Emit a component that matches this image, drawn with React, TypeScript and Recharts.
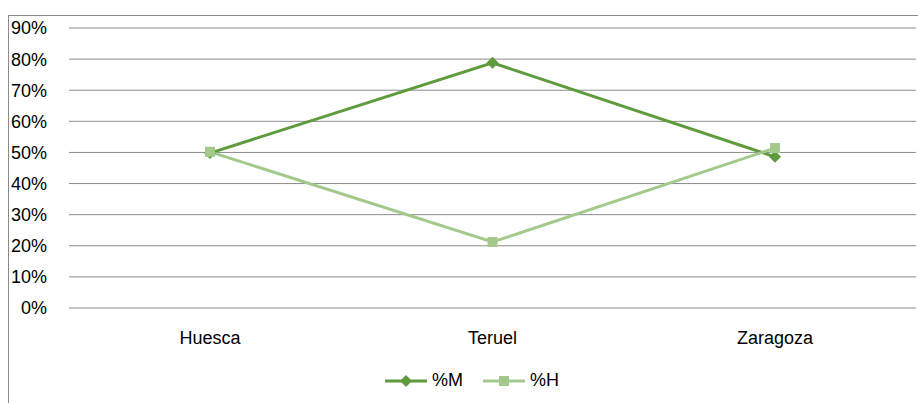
import * as React from "react";
import { CartesianGrid, Legend, Line, LineChart, XAxis, YAxis } from "recharts";

const provinces = ["Huesca", "Teruel", "Zaragoza"];
const pctM = [0.498, 0.788, 0.486];
const pctH = [0.502, 0.212, 0.514];
const yTicks = [0, 0.1, 0.2, 0.3, 0.4, 0.5, 0.6, 0.7, 0.8, 0.9];

const DARK = "#5f9a3c";
const LIGHT = "#a3c98c";
const FONT = "'Liberation Sans', Arial, sans-serif";

const rows = provinces.map((name, i) => ({ name, M: pctM[i], H: pctH[i] }));

const pct = (v: number) => `${Math.round(v * 100)}%`;

function Diamond(props: any) {
  const { cx, cy, fill } = props;
  if (cx == null || cy == null) return null;
  const r = 6;
  return (
    <path
      d={`M${cx},${cy - r}L${cx + r},${cy}L${cx},${cy + r}L${cx - r},${cy}Z`}
      fill={fill}
    />
  );
}

function Square(props: any) {
  const { cx, cy, fill } = props;
  if (cx == null || cy == null) return null;
  return <rect x={cx - 5} y={cy - 5} width={10} height={10} fill={fill} />;
}

function LegendContent() {
  const item = (label: string, color: string, marker: "d" | "s") => (
    <div style={{ display: "flex", alignItems: "center", marginRight: 20 }}>
      <svg width={42} height={14}>
        <line x1={0} y1={7} x2={42} y2={7} stroke={color} strokeWidth={3} />
        {marker === "d" ? (
          <path d="M21,1L27,7L21,13L15,7Z" fill={color} />
        ) : (
          <rect x={16} y={2} width={10} height={10} fill={color} />
        )}
      </svg>
      <span style={{ marginLeft: 5, fontSize: 18, color: "#000" }}>{label}</span>
    </div>
  );
  return (
    <div
      style={{
        display: "flex",
        justifyContent: "center",
        fontFamily: FONT,
        paddingLeft: 40,
      }}
    >
      {item("%M", DARK, "d")}
      {item("%H", LIGHT, "s")}
    </div>
  );
}

export default function App() {
  return (
    <div
      style={{
        position: "absolute",
        left: 0,
        top: 0,
        width: 918,
        height: 403,
        background: "#fff",
        overflow: "hidden",
        fontFamily: FONT,
      }}
    >
      <div
        style={{
          position: "absolute",
          left: 8,
          top: 15,
          width: 920,
          height: 400,
          borderTop: "1px solid #8a8a8a",
          borderLeft: "1px solid #8a8a8a",
        }}
      />
      <LineChart
        width={918}
        height={403}
        data={rows}
        margin={{ top: 28, right: 2, left: 8, bottom: 0 }}
      >
        <CartesianGrid horizontal vertical={false} stroke="#8c8c8c" strokeWidth={1} />
        <XAxis
          dataKey="name"
          axisLine={false}
          tickLine={false}
          tickSize={0}
          tickMargin={23}
          height={62}
          padding={{ left: 141, right: 141 }}
          tick={{ fontSize: 18, fill: "#000", fontFamily: FONT }}
        />
        <YAxis
          domain={[0, 0.9]}
          ticks={yTicks}
          tickFormatter={pct}
          axisLine={false}
          tickLine={false}
          tickSize={0}
          tickMargin={22}
          width={61}
          tick={{ fontSize: 18, fill: "#000", fontFamily: FONT }}
        />
        <Legend
          verticalAlign="bottom"
          height={33}
          content={<LegendContent />}
        />
        <Line
          dataKey="M"
          name="%M"
          stroke={DARK}
          strokeWidth={3}
          dot={<Diamond fill={DARK} />}
          isAnimationActive={false}
        />
        <Line
          dataKey="H"
          name="%H"
          stroke={LIGHT}
          strokeWidth={3}
          dot={<Square fill={LIGHT} />}
          isAnimationActive={false}
        />
      </LineChart>
    </div>
  );
}
